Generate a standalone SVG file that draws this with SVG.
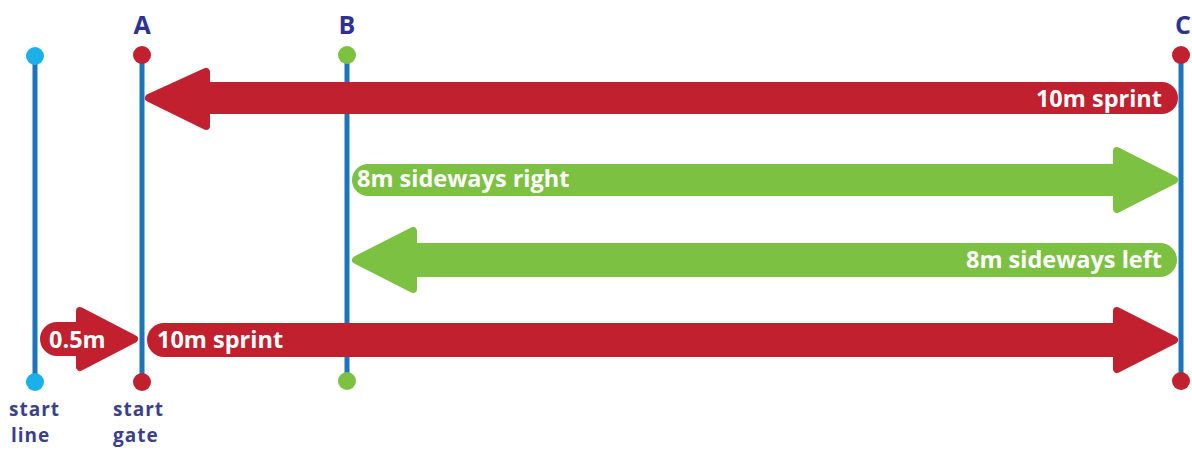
<svg xmlns="http://www.w3.org/2000/svg" width="1192" height="453" viewBox="0 0 1192 453">
<style>
.post{stroke:#1b75bc;stroke-width:5;fill:none}
.red{fill:#c1202f}
.redh{fill:#c1202f;stroke:#c1202f;stroke-width:8;stroke-linejoin:round}
.grn{fill:#7dc142}
.grnh{fill:#7dc142;stroke:#7dc142;stroke-width:8;stroke-linejoin:round}
.lbl{font-family:"Open Sans","Noto Sans",sans-serif;font-weight:bold;font-size:23.5px;fill:#ffffff}
.cap{font-family:"Open Sans","Noto Sans",sans-serif;font-weight:bold;font-size:19px;letter-spacing:1px;fill:#3b3f8c}
.let{font-family:"Open Sans","Noto Sans",sans-serif;font-weight:bold;font-size:25px;fill:#2e3192;text-anchor:middle}
</style>
<rect width="1192" height="453" fill="#ffffff"/>
<g id="start-line">
<line class="post" x1="35" y1="56" x2="35" y2="382"/>
<circle cx="35" cy="56" r="9" fill="#1cb0e8"/>
<circle cx="35" cy="382" r="9" fill="#1cb0e8"/>
<text class="cap" x="9" y="416">start</text>
<text class="cap" x="11" y="442">line</text>
</g>
<g id="gate-A">
<line class="post" x1="142" y1="55" x2="142" y2="382"/>
<circle cx="142" cy="55" r="9" fill="#c1202f"/>
<circle cx="142" cy="382" r="9" fill="#c1202f"/>
<text class="let" x="142" y="34">A</text>
<text class="cap" x="113" y="416">start</text>
<text class="cap" x="113" y="442">gate</text>
</g>
<g id="gate-B">
<line class="post" x1="347" y1="55" x2="347" y2="381"/>
<circle cx="347" cy="55" r="9" fill="#7dc142"/>
<circle cx="347" cy="381" r="9" fill="#7dc142"/>
<text class="let" x="347" y="34">B</text>
</g>
<g id="gate-C">
<line class="post" x1="1181" y1="55" x2="1181" y2="381"/>
<circle cx="1181" cy="55" r="9" fill="#c1202f"/>
<circle cx="1181" cy="381" r="9" fill="#c1202f"/>
<text class="let" x="1183" y="34">C</text>
</g>
<g id="connectors">
<g id="sprint-back">
<rect class="red" x="190" y="82" width="988" height="32" rx="16"/>
<polygon class="redh" points="149,98 206,72 206,126"/>
<text class="lbl" x="1162" y="107" text-anchor="end">10m sprint</text>
</g>
<g id="sideways-right">
<rect class="grn" x="352" y="164" width="790" height="32" rx="16"/>
<polygon class="grnh" points="1117,151 1174,180 1117,209"/>
<text class="lbl" x="357" y="187">8m sideways right</text>
</g>
<g id="sideways-left">
<rect class="grn" x="395" y="243" width="782" height="34" rx="17"/>
<polygon class="grnh" points="356,260 413,231 413,289"/>
<text class="lbl" x="1162" y="268" text-anchor="end">8m sideways left</text>
</g>
<g id="sprint-out">
<rect class="red" x="147" y="323" width="983" height="34" rx="17"/>
<polygon class="redh" points="1117,311 1174,340 1117,369"/>
<text class="lbl" x="157" y="348">10m sprint</text>
</g>
<g id="half-metre">
<rect class="red" x="40" y="322" width="62" height="34" rx="17"/>
<polygon class="redh" points="80,311 134,339 80,367"/>
<text class="lbl" x="49" y="348">0.5m</text>
</g>
</g>
</svg>
